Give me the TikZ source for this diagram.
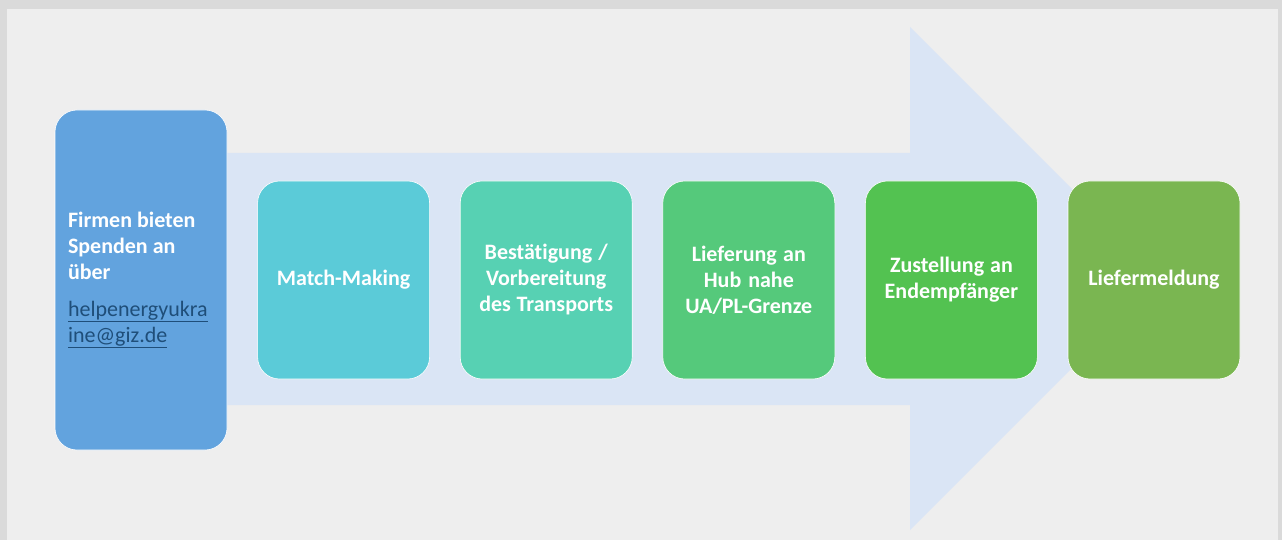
\documentclass[tikz,border=0pt]{standalone}
\usepackage{fontspec}
\setmainfont{Carlito}[Ligatures=NoCommon]
\usetikzlibrary{positioning}
\definecolor{FrameGray}{HTML}{DADADA}
\definecolor{PageGray}{HTML}{EEEEEE}
\definecolor{ArrowBlue}{HTML}{DAE5F5}
\definecolor{OfferBlue}{HTML}{62A3DE}
\definecolor{MatchCyan}{HTML}{5BCBD8}
\definecolor{PrepTeal}{HTML}{57D1B3}
\definecolor{HubGreen}{HTML}{55C97B}
\definecolor{DropGreen}{HTML}{53C251}
\definecolor{DoneGreen}{HTML}{7AB651}
\definecolor{MailBlue}{HTML}{1F4E79}

\begin{document}
\begin{tikzpicture}[x=1pt,y=-1pt,node distance=30pt,
    stepbox/.style={rounded corners=22pt,draw=white,line width=0.6pt,minimum width=172pt,minimum height=198pt,text width=160pt,align=center,inner sep=0pt,text=white,font=\bfseries\fontsize{22}{26}\selectfont,execute at begin node={\spaceskip=0pt\xspaceskip=0pt}}]
        % page and frame
        \fill[FrameGray] (0,0) rectangle (1282,540);
        \fill[PageGray] (7,9) rectangle (1278,540);
        % big process arrow
        \fill[ArrowBlue] (200,153) -- (910,153) -- (910,27) -- (1161.5,278.5) -- (910,530) -- (910,405) -- (200,405) -- cycle;
        \node[stepbox,fill=OfferBlue,minimum height=340pt,text width=146pt,align=left] (offer) at (141,280) {Firmen bieten\\Spenden an\\über\\[11pt]{\mdseries\color{MailBlue}\underline{helpenergyukra}}\\{\mdseries\color{MailBlue}\underline{ine@giz.de}}};
        \node[stepbox,fill=MatchCyan,right=of offer] (match) {Match-Making};
        \node[stepbox,fill=PrepTeal,right=of match] (prep) {Bestätigung /\\Vorbereitung\\des Transports};
        \node[stepbox,fill=HubGreen,right=of prep] (hub) {Lieferung an\\Hub nahe\\UA/PL-Grenze};
        \node[stepbox,fill=DropGreen,right=of hub] (drop) {Zustellung an\\Endempfänger};
        \node[stepbox,fill=DoneGreen,right=of drop] (done) {Liefermeldung};
      \end{tikzpicture}
\end{document}
